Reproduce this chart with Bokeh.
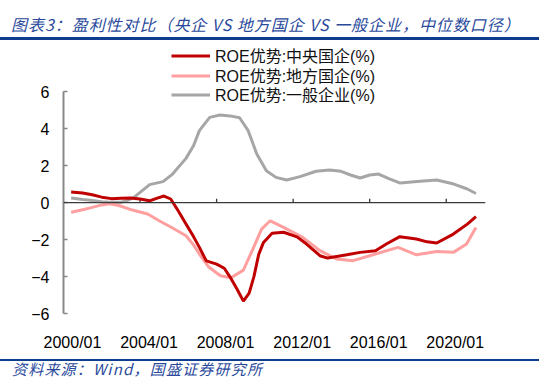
from bokeh.plotting import figure
from bokeh.models import (Range1d, FixedTicker, Span, Legend, LegendItem,
                          ColumnDataSource, Div)
from bokeh.layouts import column
from bokeh.embed import file_html
from bokeh.resources import INLINE

# ---------------- data ----------------
central_t = [2000.4, 2001.0, 2001.5, 2002.0, 2002.5, 2003.0, 2003.5, 2004.0, 2004.5,
             2004.9, 2005.25, 2005.6, 2006.0, 2006.4, 2006.8, 2007.1, 2007.46, 2008.0,
             2008.4, 2008.75, 2009.05, 2009.4, 2009.7, 2009.95, 2010.2, 2010.45, 2010.9,
             2011.5, 2012.2, 2012.7, 2013.4, 2013.8, 2014.8, 2015.5, 2016.3, 2016.87,
             2017.57, 2018.44, 2019.0, 2019.5, 2020.37, 2021.1, 2021.55]
central_v = [0.58, 0.52, 0.43, 0.30, 0.22, 0.24, 0.25, 0.20, 0.10,
             0.25, 0.36, 0.20, -0.45, -1.15, -1.85, -2.42, -3.15, -3.33,
             -3.55, -4.10, -4.65, -5.33, -4.90, -4.00, -2.80, -2.15, -1.65,
             -1.60, -1.85, -2.24, -2.87, -3.00, -2.82, -2.69, -2.60, -2.24,
             -1.84, -1.97, -2.12, -2.18, -1.70, -1.16, -0.76]

local_t = [2000.4, 2001.0, 2001.4, 2002.0, 2002.4, 2002.9, 2003.6, 2004.0, 2004.4,
           2005.0, 2005.7, 2006.4, 2006.8, 2007.1, 2007.6, 2008.2, 2008.75, 2009.4,
           2009.9, 2010.35, 2010.8, 2011.5, 2012.5, 2013.4, 2014.26, 2015.13, 2016.17,
           2017.48, 2018.44, 2019.5, 2020.37, 2021.06, 2021.55]
local_v = [-0.52, -0.38, -0.28, -0.12, -0.06, -0.15, -0.40, -0.50, -0.61,
           -0.98, -1.37, -1.79, -2.30, -2.78, -3.50, -3.96, -4.06, -3.65,
           -2.50, -1.43, -0.98, -1.34, -1.88, -2.60, -3.05, -3.14, -2.82,
           -2.42, -2.82, -2.64, -2.69, -2.24, -1.34]

general_t = [2000.4, 2001.0, 2001.4, 2002.0, 2002.4, 2003.0, 2003.3, 2003.7, 2004.0,
             2004.5, 2005.2, 2005.7, 2006.4, 2006.8, 2007.1, 2007.64, 2008.17, 2008.7,
             2009.2, 2009.65, 2010.1, 2010.6, 2011.1, 2011.66, 2012.36, 2013.2, 2013.9,
             2014.5, 2015.0, 2015.5, 2016.0, 2016.46, 2017.0, 2017.6, 2018.47, 2019.5,
             2020.4, 2021.1, 2021.55]
general_v = [0.25, 0.17, 0.13, 0.05, 0.02, 0.02, 0.10, 0.30, 0.56,
             0.98, 1.14, 1.55, 2.40, 3.10, 3.90, 4.62, 4.75, 4.70,
             4.60, 3.90, 2.64, 1.73, 1.37, 1.23, 1.41, 1.70, 1.77,
             1.70, 1.50, 1.34, 1.50, 1.55, 1.30, 1.06, 1.15, 1.23,
             1.01, 0.74, 0.50]

series_names = ["ROE优势:中央国企(%)", "ROE优势:地方国企(%)", "ROE优势:一般企业(%)"]
x_tick_years = [2000, 2004, 2008, 2012, 2016, 2020]
x_tick_labels = ["2000/01", "2004/01", "2008/01", "2012/01", "2016/01", "2020/01"]
y_ticks = [-6, -4, -2, 0, 2, 4, 6]

title_text = "图表3：盈利性对比（央企 VS 地方国企 VS 一般企业，中位数口径）"
source_text = "资料来源：Wind，国盛证券研究所"

# ---------------- styles ----------------
C_CENTRAL = "#C00000"
C_LOCAL = "#FF9F9F"
C_GENERAL = "#A6A6A6"
BLUE = "#0E3C8F"
TEXT_BLUE = "#2B4A9C"
LABEL_OFFSET = 0.47   # Excel-style label placement (years)
Y_TOP = 8.62          # room above the axis for the legend

title_div = Div(
    text=(f'<div style="width:539px;height:40px;border-bottom:3px solid {BLUE};'
          f'padding:7px 0 0 11px;box-sizing:border-box;line-height:34px;'
          f'font-family:\'Noto Sans CJK SC\';font-style:italic;font-size:16px;'
          f'letter-spacing:0.95px;'
          f'color:{TEXT_BLUE};white-space:nowrap;">{title_text}</div>'),
    width=539, height=43, margin=0)

p = figure(width=550, height=316, output_backend="svg", toolbar_location=None,
           x_range=Range1d(2000, 2022.05), y_range=Range1d(-6, Y_TOP),
           min_border_left=63, min_border_right=65, min_border_top=0,
           min_border_bottom=46, margin=0)
p.title.visible = False
p.outline_line_color = None
p.xgrid.visible = False
p.ygrid.visible = False

# y axis
ya = p.yaxis[0]
ya.ticker = FixedTicker(ticks=y_ticks)
ya.bounds = (-6, 6)
ya.axis_line_color = "#888888"
ya.axis_line_width = 2
ya.major_tick_line_color = "#888888"
ya.major_tick_line_width = 1.5
ya.major_tick_in = 4
ya.major_tick_out = 0
ya.minor_tick_line_color = None
ya.major_label_text_font = "Liberation Sans"
ya.major_label_text_font_size = "16px"
ya.major_label_text_color = "#000000"
ya.major_label_standoff = 14

# x axis: labels only at the bottom; zero line drawn as a span
xa = p.xaxis[0]
label_pos = [yr + LABEL_OFFSET for yr in x_tick_years]
xa.ticker = FixedTicker(ticks=label_pos)
xa.major_label_overrides = {lp: lab for lp, lab in zip(label_pos, x_tick_labels)}
xa.axis_line_color = None
xa.major_tick_line_color = None
xa.minor_tick_line_color = None
xa.major_label_text_font = "Liberation Sans"
xa.major_label_text_font_size = "16px"
xa.major_label_text_color = "#000000"
xa.major_label_standoff = 14

p.add_layout(Span(location=0, dimension="width", line_color="#3A3A3A", line_width=1.3))
tick_src = ColumnDataSource(dict(x=x_tick_years[1:], y0=[0] * 5, y1=[0.22] * 5))
p.segment(x0="x", y0="y0", x1="x", y1="y1", source=tick_src, line_color="#3A3A3A",
          line_width=1.3)

r3 = p.line(general_t, general_v, line_color=C_GENERAL, line_width=3)
r2 = p.line(local_t, local_v, line_color=C_LOCAL, line_width=3)
r1 = p.line(central_t, central_v, line_color=C_CENTRAL, line_width=3)

# one legend per row so that the row pitch matches the reference
for name, rend, ypos in zip(series_names, [r1, r2, r3], [246, 226, 207]):
    lg = Legend(items=[LegendItem(label=name, renderers=[rend])],
                location=(108, ypos), orientation="vertical",
                glyph_width=39, glyph_height=19, label_height=19, spacing=0,
                label_standoff=5, padding=0, margin=0,
                border_line_color=None, background_fill_alpha=0,
                label_text_font="'Liberation Sans', 'Noto Sans CJK SC'",
                label_text_font_size="16px",
                label_text_color="#111111")
    p.add_layout(lg, "center")

source_div = Div(
    text=(f'<div style="width:539px;height:17px;border-top:2.6px solid {BLUE};'
          f'padding:0 0 0 12px;box-sizing:border-box;line-height:15px;'
          f'font-family:\'Noto Sans CJK SC\';font-style:italic;font-size:15px;'
          f'letter-spacing:1.2px;'
          f'color:{TEXT_BLUE};white-space:nowrap;">{source_text}</div>'),
    width=539, height=17, margin=0)

layout = column(title_div, p, source_div, spacing=0)
open("out.html", "w").write(file_html(layout, INLINE))
